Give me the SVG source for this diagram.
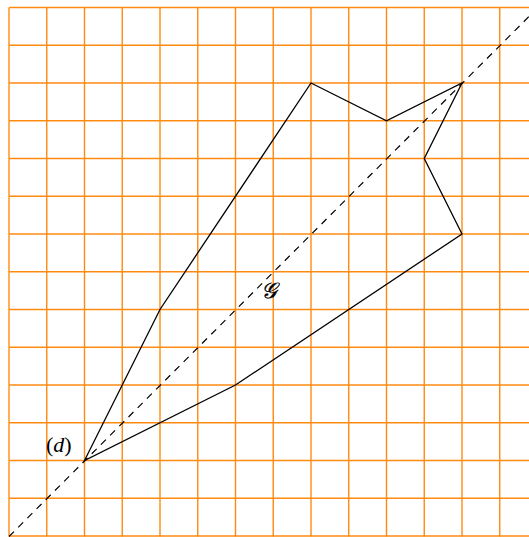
<svg xmlns="http://www.w3.org/2000/svg" width="529" height="537" viewBox="0 0 529 537">
<style>
.grid line{stroke:#ff8a10;stroke-width:1.4}
.poly{fill:none;stroke:#000;stroke-width:1.3;stroke-linejoin:miter}
.axis{stroke:#000;stroke-width:1.2;stroke-dasharray:7,6}
.lbl{font-family:"Liberation Serif","DejaVu Serif",serif;font-size:22px;fill:#000}
</style>
<rect width="529" height="537" fill="#fff"/>
<g class="grid" id="grid">
<line x1="9" y1="7.5" x2="9" y2="536.5"/><line x1="46.75" y1="7.5" x2="46.75" y2="536.5"/><line x1="84.5" y1="7.5" x2="84.5" y2="536.5"/><line x1="122.25" y1="7.5" x2="122.25" y2="536.5"/><line x1="160" y1="7.5" x2="160" y2="536.5"/><line x1="197.75" y1="7.5" x2="197.75" y2="536.5"/><line x1="235.5" y1="7.5" x2="235.5" y2="536.5"/><line x1="273.25" y1="7.5" x2="273.25" y2="536.5"/><line x1="311" y1="7.5" x2="311" y2="536.5"/><line x1="348.75" y1="7.5" x2="348.75" y2="536.5"/><line x1="386.5" y1="7.5" x2="386.5" y2="536.5"/><line x1="424.25" y1="7.5" x2="424.25" y2="536.5"/><line x1="462" y1="7.5" x2="462" y2="536.5"/><line x1="499.75" y1="7.5" x2="499.75" y2="536.5"/>
<line x1="9" y1="7.5" x2="529" y2="7.5"/><line x1="9" y1="45.25" x2="529" y2="45.25"/><line x1="9" y1="83" x2="529" y2="83"/><line x1="9" y1="120.75" x2="529" y2="120.75"/><line x1="9" y1="158.5" x2="529" y2="158.5"/><line x1="9" y1="196.25" x2="529" y2="196.25"/><line x1="9" y1="234" x2="529" y2="234"/><line x1="9" y1="271.75" x2="529" y2="271.75"/><line x1="9" y1="309.5" x2="529" y2="309.5"/><line x1="9" y1="347.25" x2="529" y2="347.25"/><line x1="9" y1="385" x2="529" y2="385"/><line x1="9" y1="422.75" x2="529" y2="422.75"/><line x1="9" y1="460.5" x2="529" y2="460.5"/><line x1="9" y1="498.25" x2="529" y2="498.25"/><line x1="9" y1="536" x2="529" y2="536"/>
</g>
<g id="connectors">
<line class="axis" x1="9" y1="536.5" x2="529" y2="16.5"/>
</g>
<g id="figure">
<polygon class="poly" points="84.5,460.5 160,309.5 311,83 386.5,120.75 462,83 424.25,158.5 462,234 235.5,385"/>
</g>
<g id="label-G"><text class="lbl" x="261" y="298" font-size="28" font-style="italic" stroke="#000" stroke-width="0.4">𝒢</text></g>
<g id="label-d"><text class="lbl" x="46" y="452">(<tspan font-style="italic">d</tspan>)</text></g>
</svg>
